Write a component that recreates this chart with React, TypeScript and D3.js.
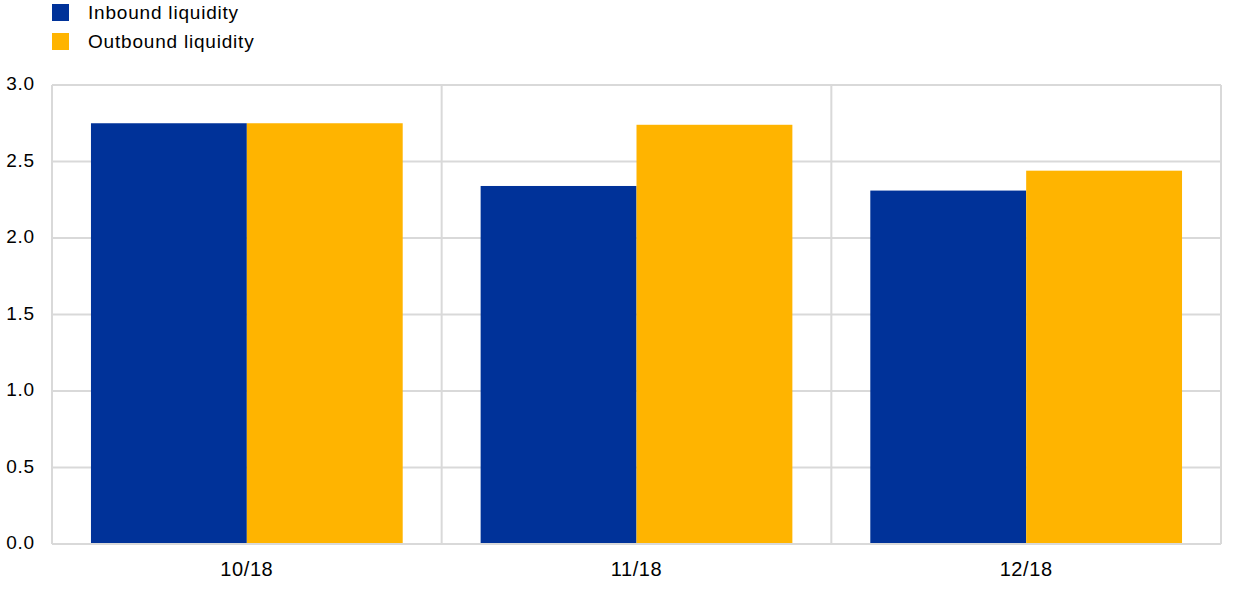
import React from "react";
import * as d3 from "d3";

const categories = ["10/18", "11/18", "12/18"];
const seriesNames = ["Inbound liquidity", "Outbound liquidity"];
const inbound = [2.75, 2.34, 2.31];
const outbound = [2.75, 2.74, 2.44];
const yTicks = [0, 0.5, 1.0, 1.5, 2.0, 2.5, 3.0];
const colors = ["#003299", "#FFB400"];

export default function App() {
  const W = 1240, H = 590;
  const left = 52, right = 1221, top = 85, bottom = 544;
  const x = d3.scaleBand<string>().domain(categories).range([left, right]).paddingInner(0.2).paddingOuter(0.1);
  const y = d3.scaleLinear().domain([0, 3]).range([bottom, top]);
  const step = x.step();
  const bw = x.bandwidth() / 2;
  const font = "'Liberation Sans', Arial, sans-serif";
  const grid = "#d9d9d9";
  const series = [inbound, outbound];
  return (
    <svg width={W} height={H} style={{ position: "absolute", left: 0, top: 0 }} fontFamily={font}>
      <rect x={0} y={0} width={W} height={H} fill="#fff" />
      {yTicks.map((t) => (
        <line key={"h" + t} x1={left} x2={right} y1={y(t)} y2={y(t)} stroke={grid} strokeWidth={2} />
      ))}
      {categories.map((c, i) => (
        <line key={"v" + c} x1={left + step * (i + 1)} x2={left + step * (i + 1)} y1={top} y2={bottom} stroke={grid} strokeWidth={2} />
      ))}
      <line x1={left} x2={left} y1={top} y2={bottom} stroke={grid} strokeWidth={2} />
      {series.map((vals, si) =>
        categories.map((c, i) => (
          <rect
            key={si + c}
            x={(x(c) as number) + si * bw}
            y={y(vals[i])}
            width={bw}
            height={bottom - y(vals[i])}
            fill={colors[si]}
          />
        ))
      )}
      <line x1={left} x2={right} y1={bottom} y2={bottom} stroke={grid} strokeWidth={2} />
      {yTicks.map((t) => (
        <text key={"yt" + t} x={35} y={y(t) + 5} textAnchor="end" fontSize={19} letterSpacing={0.8} fill="#000">
          {t.toFixed(1)}
        </text>
      ))}
      {categories.map((c) => (
        <text key={"xt" + c} x={(x(c) as number) + x.bandwidth() / 2} y={576} textAnchor="middle" fontSize={20} letterSpacing={0.6} fill="#000">
          {c}
        </text>
      ))}
      {seriesNames.map((n, i) => (
        <g key={n}>
          <rect x={52} y={4 + i * 29} width={17} height={17} fill={colors[i]} />
          <text x={88} y={19 + i * 29} fontSize={19} letterSpacing={0.8} fill="#000">
            {n}
          </text>
        </g>
      ))}
    </svg>
  );
}
